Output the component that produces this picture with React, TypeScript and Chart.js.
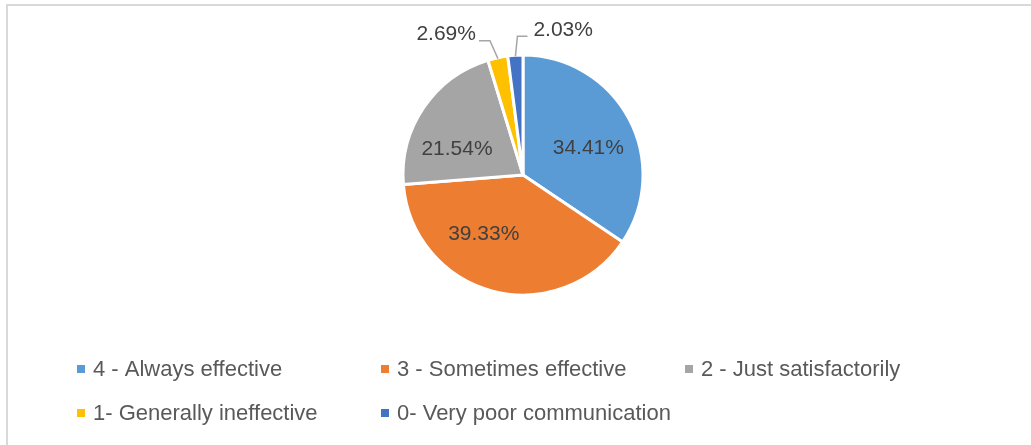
import { useEffect, useRef } from "react";
import { Chart, registerables } from "chart.js";
Chart.register(...registerables);

const categories = [
  "4 - Always effective",
  "3 - Sometimes effective",
  "2 - Just satisfactorily",
  "1- Generally ineffective",
  "0- Very poor communication",
];
const percentages = [34.41, 39.33, 21.54, 2.69, 2.03];
const colors = ["#5B9BD5", "#ED7D31", "#A5A5A5", "#FFC000", "#4472C4"];

const FONT = '"Liberation Sans", Arial, sans-serif';

const framePlugin = {
  id: "frame",
  beforeDraw(chart: any) {
    const ctx = chart.ctx;
    ctx.save();
    ctx.fillStyle = "#ffffff";
    ctx.fillRect(0, 0, chart.width, chart.height);
    ctx.fillStyle = "#d9d9d9";
    ctx.fillRect(6, 4, chart.width - 6, 2);
    ctx.fillRect(6, 4, 2, chart.height - 4);
    ctx.restore();
  },
};

// placement of the inside labels, relative to each slice's mid angle (degrees) and radius fraction
const insidePlacement: Record<number, { dAngle: number; r: number }> = {
  0: { dAngle: 5.4, r: 0.59 },
  1: { dAngle: 19, r: 0.59 },
  2: { dAngle: -13, r: 0.59 },
};
// leader-line callouts for small slices
const calloutPlacement: Record<number, { ex: number; ey: number; len: number }> = {
  3: { ex: -8, ey: -18, len: -11 },
  4: { ex: 2, ey: -20, len: 10 },
};

const labelsPlugin = {
  id: "sliceLabels",
  afterDatasetsDraw(chart: any) {
    const ctx = chart.ctx;
    const meta = chart.getDatasetMeta(0);
    const values = chart.data.datasets[0].data as number[];
    ctx.save();
    ctx.font = `21px ${FONT}`;
    ctx.fillStyle = "#404040";
    ctx.textBaseline = "middle";
    meta.data.forEach((arc: any, i: number) => {
      const { x, y, startAngle, endAngle, outerRadius } = arc.getProps(
        ["x", "y", "startAngle", "endAngle", "outerRadius"],
        true
      );
      const mid = (startAngle + endAngle) / 2;
      const text = values[i].toFixed(2) + "%";
      if (insidePlacement[i]) {
        const p = insidePlacement[i];
        const a = mid + (p.dAngle * Math.PI) / 180;
        const r = outerRadius * p.r;
        ctx.textAlign = "center";
        ctx.fillText(text, x + Math.cos(a) * r, y + Math.sin(a) * r);
      } else if (calloutPlacement[i]) {
        const c = calloutPlacement[i];
        const edgeX = x + Math.cos(mid) * (outerRadius - 1);
        const edgeY = y + Math.sin(mid) * (outerRadius - 1);
        const elbowX = edgeX + c.ex;
        const elbowY = edgeY + c.ey;
        const endX = elbowX + c.len;
        ctx.strokeStyle = "#A6A6A6";
        ctx.lineWidth = 1.5;
        ctx.beginPath();
        ctx.moveTo(edgeX, edgeY);
        ctx.lineTo(elbowX, elbowY);
        ctx.lineTo(endX, elbowY);
        ctx.stroke();
        if (c.len < 0) {
          ctx.textAlign = "right";
          ctx.fillText(text, endX - 3, elbowY - 6);
        } else {
          ctx.textAlign = "left";
          ctx.fillText(text, endX + 6, elbowY - 6);
        }
      }
    });
    ctx.restore();
  },
};

const legendLayout = { x0: 77, colWidth: 304, perRow: 3, y0: 369, rowGap: 44, box: 8, textGap: 16 };

const legendPlugin = {
  id: "gridLegend",
  afterDraw(chart: any) {
    const ctx = chart.ctx;
    const labels = chart.data.labels as string[];
    const bg = chart.data.datasets[0].backgroundColor as string[];
    const L = legendLayout;
    ctx.save();
    ctx.font = `22px ${FONT}`;
    ctx.textBaseline = "middle";
    ctx.textAlign = "left";
    labels.forEach((lab, i) => {
      const col = i % L.perRow;
      const row = Math.floor(i / L.perRow);
      const x = L.x0 + col * L.colWidth;
      const y = L.y0 + row * L.rowGap;
      ctx.fillStyle = bg[i];
      ctx.fillRect(x, y - L.box / 2, L.box, L.box);
      ctx.fillStyle = "#595959";
      ctx.fillText(lab, x + L.textGap, y + 1);
    });
    ctx.restore();
  },
};

export default function App() {
  const ref = useRef<HTMLCanvasElement>(null);
  useEffect(() => {
    const canvas = ref.current!;
    const chart = new Chart(canvas, {
      type: "pie",
      data: {
        labels: categories,
        datasets: [
          {
            data: percentages,
            backgroundColor: colors,
            borderColor: "#ffffff",
            borderWidth: 3,
            radius: 120,
          } as any,
        ],
      },
      options: {
        responsive: false,
        animation: false,
        layout: { padding: { left: 15, right: 0, top: 0, bottom: 95 } },
        plugins: { legend: { display: false }, tooltip: { enabled: false } },
      },
      plugins: [framePlugin, labelsPlugin, legendPlugin],
    });
    return () => chart.destroy();
  }, []);
  return (
    <div style={{ position: "fixed", left: 0, top: 0, width: 1031, height: 445, background: "#fff" }}>
      <canvas ref={ref} width={1031} height={445} style={{ display: "block" }} />
    </div>
  );
}
